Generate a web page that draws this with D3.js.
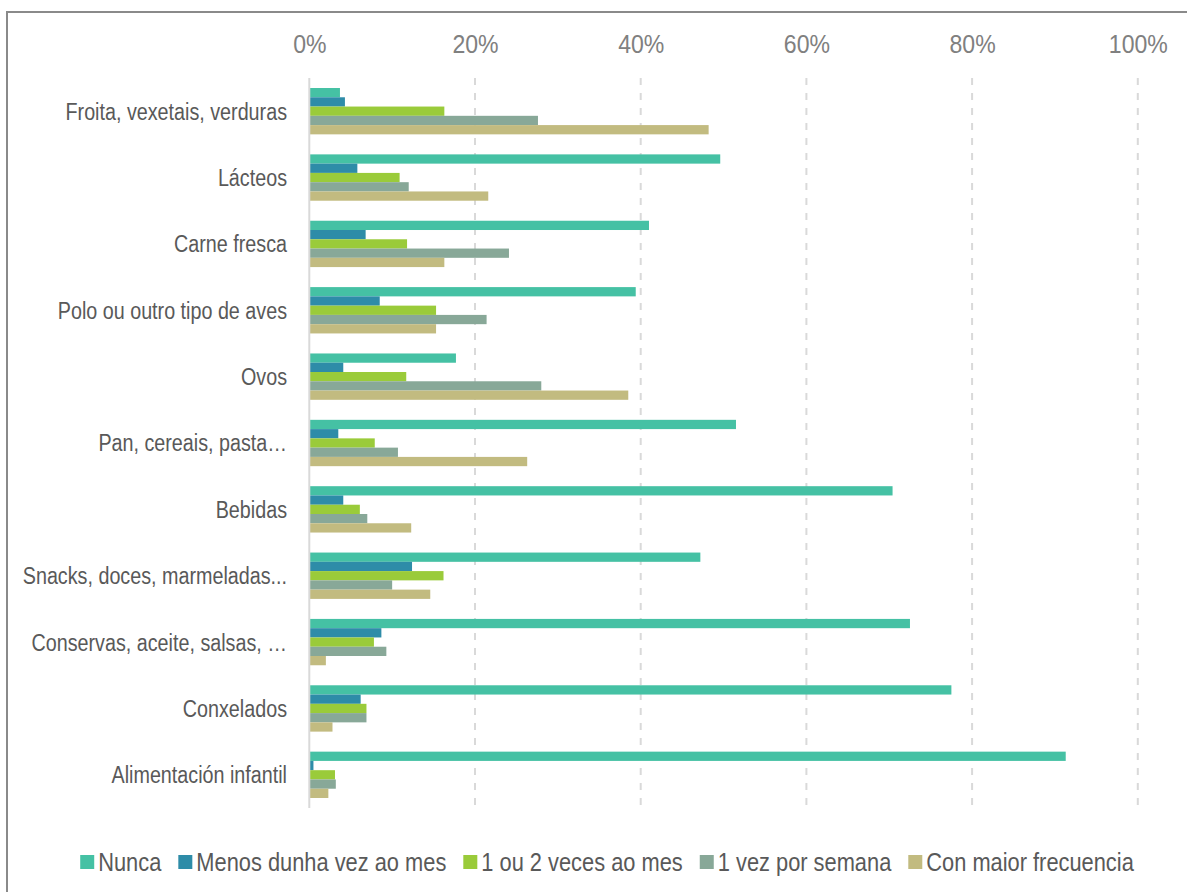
<!DOCTYPE html>
<html>
<head>
<meta charset="utf-8">
<script src="https://cdn.jsdelivr.net/npm/d3@7"></script>
<style>
  html, body { margin: 0; padding: 0; background: #ffffff; }
  svg { display: block; }
  text { font-family: "Liberation Sans Narrow", "Arial Narrow", "Liberation Sans", Arial, sans-serif; }
</style>
</head>
<body>
<svg id="chart" width="1187" height="892"></svg>
<script>
// Food categories, listed top to bottom
const categories = [
  "Froita, vexetais, verduras",
  "Lácteos",
  "Carne fresca",
  "Polo ou outro tipo de aves",
  "Ovos",
  "Pan, cereais, pasta\u2026",
  "Bebidas",
  "Snacks, doces, marmeladas...",
  "Conservas, aceite, salsas, \u2026",
  "Conxelados",
  "Alimentación infantil"
];

// Purchase frequency series
const seriesNames = [
  "Nunca",
  "Menos dunha vez ao mes",
  "1 ou 2 veces ao mes",
  "1 vez por semana",
  "Con maior frecuencia"
];

// Share of respondents (%) per category, one array per frequency
const nunca       = [3.7, 49.6, 41.0, 39.4, 17.7, 51.5, 70.4, 47.2, 72.5, 77.5, 91.3];
const menosDunha  = [4.3,  5.8,  6.8,  8.5,  4.1,  3.5,  4.1, 12.4,  8.7,  6.2,  0.5];
const unhaOuDuas  = [16.3, 10.9, 11.8, 15.3, 11.7,  7.9,  6.1, 16.2,  7.8,  6.9,  3.1];
const unhaSemana  = [27.6, 12.0, 24.1, 21.4, 28.0, 10.7,  7.0, 10.0,  9.3,  6.9,  3.2];
const maiorFrec   = [48.2, 21.6, 16.3, 15.3, 38.5, 26.3, 12.3, 14.6,  2.0,  2.8,  2.3];

const seriesValues = [nunca, menosDunha, unhaOuDuas, unhaSemana, maiorFrec];
const colors = ["#45c1a4", "#2e8ca8", "#9acb3a", "#88a898", "#c2bb80"];

const tickValues = [0, 20, 40, 60, 80, 100];

// Horizontal condensing so the sans face reads like a narrow cut
const narrow = 0.84;

const svg = d3.select("#chart");

// Outer frame
svg.append("rect")
  .attr("x", 7).attr("y", 12)
  .attr("width", 1400).attr("height", 1200)
  .attr("fill", "none")
  .attr("stroke", "#8a8a8a")
  .attr("stroke-width", 2);

const plot = { left: 309.3, right: 1137.8, top: 78, bottom: 808 };

const x = d3.scaleLinear().domain([0, 100]).range([plot.left, plot.right]);
const y0 = d3.scaleBand().domain(categories).range([plot.top, plot.bottom]).padding(0);
const y1 = d3.scaleBand().domain(seriesNames).range([0, y0.bandwidth()])
  .paddingInner(0).paddingOuter(1.08);

// Dashed vertical gridlines
svg.append("g")
  .selectAll("line")
  .data(tickValues.filter(d => d > 0))
  .join("line")
  .attr("x1", d => x(d)).attr("x2", d => x(d))
  .attr("y1", plot.top).attr("y2", plot.bottom)
  .attr("stroke", "#d9d9d9")
  .attr("stroke-width", 2)
  .attr("stroke-dasharray", "7,8");

// Top axis labels
const xAxis = d3.axisTop(x).tickValues(tickValues).tickFormat(d => d + "%").tickSize(0);
const axisG = svg.append("g")
  .attr("transform", `translate(0,53)`)
  .call(xAxis);
axisG.select(".domain").remove();
axisG.selectAll("text")
  .attr("dy", 0)
  .attr("y", 0)
  .attr("transform", "scale(0.87,1)")
  .attr("fill", "#808080")
  .style("font-size", "26.5px");

// Bars
const groups = svg.append("g")
  .selectAll("g")
  .data(categories)
  .join("g")
  .attr("transform", c => `translate(0,${y0(c)})`);

groups.selectAll("rect")
  .data((c, i) => seriesNames.map((s, j) => ({ series: s, value: seriesValues[j][i], j })))
  .join("rect")
  .attr("x", x(0))
  .attr("y", d => y1(d.series))
  .attr("width", d => x(d.value) - x(0))
  .attr("height", y1.bandwidth())
  .attr("fill", d => colors[d.j]);

// Category axis line at 0%
svg.append("line")
  .attr("x1", x(0)).attr("x2", x(0))
  .attr("y1", plot.top).attr("y2", plot.bottom)
  .attr("stroke", "#d9d9d9")
  .attr("stroke-width", 2);

// Category labels
const yAxis = d3.axisLeft(y0).tickSize(0).tickPadding(0);
const yG = svg.append("g")
  .attr("transform", `translate(287,0)`)
  .call(yAxis);
yG.select(".domain").remove();
yG.selectAll("text")
  .attr("x", 0)
  .attr("dy", "0.36em")
  .attr("transform", `scale(${narrow},1)`)
  .attr("fill", "#595959")
  .style("font-size", "23.5px");

// Legend
const legend = svg.append("g");
const items = legend.selectAll("g")
  .data(seriesNames)
  .join("g");
items.append("rect")
  .attr("width", 14).attr("height", 14)
  .attr("y", -7)
  .attr("fill", (d, i) => colors[i]);
items.append("text")
  .attr("dy", "0.36em")
  .attr("transform", `translate(18,0) scale(${narrow},1)`)
  .attr("fill", "#595959")
  .style("font-size", "26px")
  .text(d => d);

let cursor = 0;
const offsets = [];
items.each(function () {
  offsets.push(cursor);
  const w = this.querySelector("text").getComputedTextLength() * narrow;
  cursor += 18 + w + 17;
});
const totalW = cursor - 17;
const legendLeft = 607 - totalW / 2;
items.attr("transform", (d, i) => `translate(${legendLeft + offsets[i]},862)`);
</script>
</body>
</html>
